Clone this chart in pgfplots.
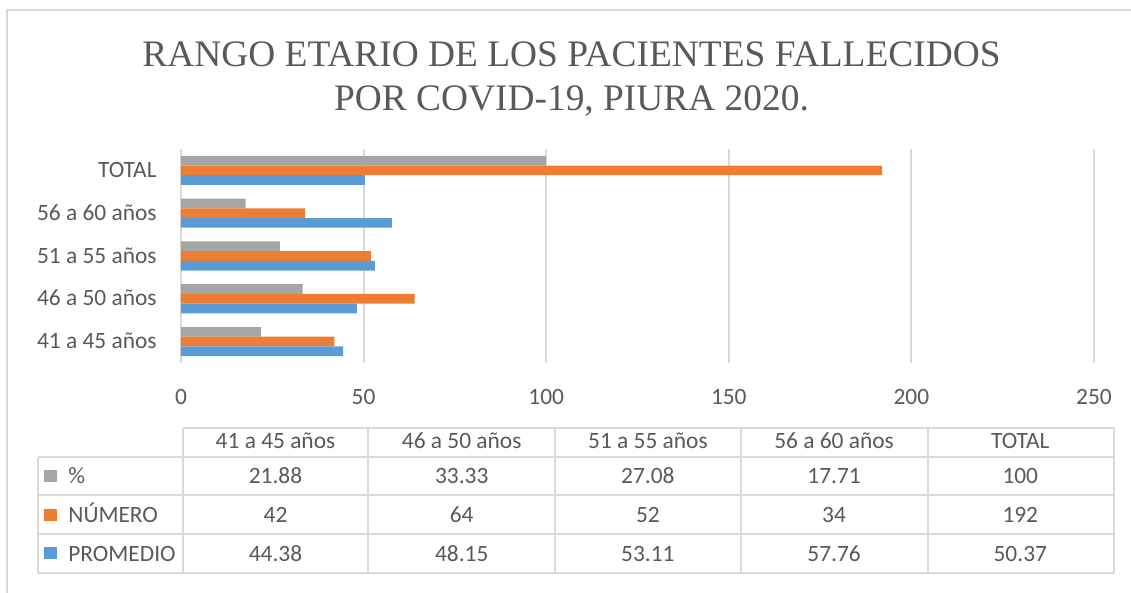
\documentclass[border=0pt]{standalone}
\usepackage{fontspec}
\setmainfont{Carlito}
\newfontfamily\titlefont{Liberation Serif}
\usepackage{pgfplots}
\usepackage{pgfplotstable}
\pgfplotsset{compat=1.18}
\definecolor{cgray}{HTML}{A5A5A5}
\definecolor{corange}{HTML}{ED7D31}
\definecolor{cblue}{HTML}{5B9BD5}
\definecolor{ctext}{HTML}{595959}
\definecolor{cgrid}{HTML}{D9D9D9}

\pgfplotstableread[col sep=comma]{
cat,pct,num,prom
41 a 45 años,21.88,42,44.38
46 a 50 años,33.33,64,48.15
51 a 55 años,27.08,52,53.11
56 a 60 años,17.71,34,57.76
TOTAL,100,192,50.37
}\data

\begin{document}
\begin{tikzpicture}[font=\fontsize{11.7}{14}\selectfont, text=ctext]
\begin{scope}[x=0.5pt,y=-0.5pt]
  \useasboundingbox (0,0) rectangle (1131,593);
  % outer frame
  \draw[cgrid, line width=1pt] (7,593) -- (7,10) -- (1131,10);
  % title
  \node[anchor=base, font=\titlefont\fontsize{18.7}{22}\selectfont, text=ctext] at (571.5,67) {RANGO ETARIO DE LOS PACIENTES FALLECIDOS};
  \node[anchor=base, font=\titlefont\fontsize{18.7}{22}\selectfont, text=ctext] at (571.5,111) {POR COVID-19, PIURA 2020.};
  % data table grid
  \draw[cgrid, line width=1pt] (183,428) -- (1114,428);
  \foreach \yy in {457,495,534,573} {\draw[cgrid, line width=1pt] (38,\yy) -- (1114,\yy);}
  \draw[cgrid, line width=1pt] (38,457) -- (38,573);
  \foreach \xx in {183,368,555,741,928,1114} {\draw[cgrid, line width=1pt] (\xx,428) -- (\xx,573);}
  % legend keys
  \fill[cgray] (44,470) rectangle (57,482);
  \fill[corange] (44,508.5) rectangle (57,520.5);
  \fill[cblue] (44,547) rectangle (57,559);
  \node[anchor=base west, inner sep=0pt] at (68,484) {\%};
  \node[anchor=base west, inner sep=0pt] at (68,523) {NÚMERO};
  \node[anchor=base west, inner sep=0pt] at (68,561) {PROMEDIO};
  % table values
  \foreach \r in {0,...,4} {
    \pgfmathsetmacro\cx{275.5+186.2*\r}
    \pgfplotstablegetelem{\r}{cat}\of\data
    \node[anchor=base, inner sep=0pt] at (\cx,449) {\pgfplotsretval};
    \pgfplotstablegetelem{\r}{pct}\of\data
    \node[anchor=base, inner sep=0pt] at (\cx,484) {\pgfplotsretval};
    \pgfplotstablegetelem{\r}{num}\of\data
    \node[anchor=base, inner sep=0pt] at (\cx,523) {\pgfplotsretval};
    \pgfplotstablegetelem{\r}{prom}\of\data
    \node[anchor=base, inner sep=0pt] at (\cx,561) {\pgfplotsretval};
  }
\end{scope}
\begin{axis}[
  at={(90.5pt,-74.5pt)}, anchor=north west,
  width=456.5pt, height=107pt, scale only axis,
  xbar, bar width=4.85pt,
  xmin=0, xmax=250, ymin=-0.5, ymax=4.5,
  xtick={0,50,100,150,200,250},
  ytick={0,1,2,3,4},
  yticklabels from table={\data}{cat},
  xmajorgrids, grid style={cgrid, line width=1pt},
  axis line style={draw=none},
  major tick length=0pt,
  tick label style={text=ctext, font=\fontsize{11.7}{14}\selectfont, inner sep=0pt},
  xticklabel style={anchor=base, yshift=-21pt},
  yticklabel style={anchor=base east, xshift=-12pt, yshift=-3.6pt},
  /pgf/number format/assume math mode=true,
]
\addplot[fill=cgray, draw=none, bar shift=4.85pt] table[x=pct, y expr=\coordindex] {\data};
\addplot[fill=corange, draw=none, bar shift=0pt] table[x=num, y expr=\coordindex] {\data};
\addplot[fill=cblue, draw=none, bar shift=-4.85pt] table[x=prom, y expr=\coordindex] {\data};
\end{axis}
\end{tikzpicture}
\end{document}
